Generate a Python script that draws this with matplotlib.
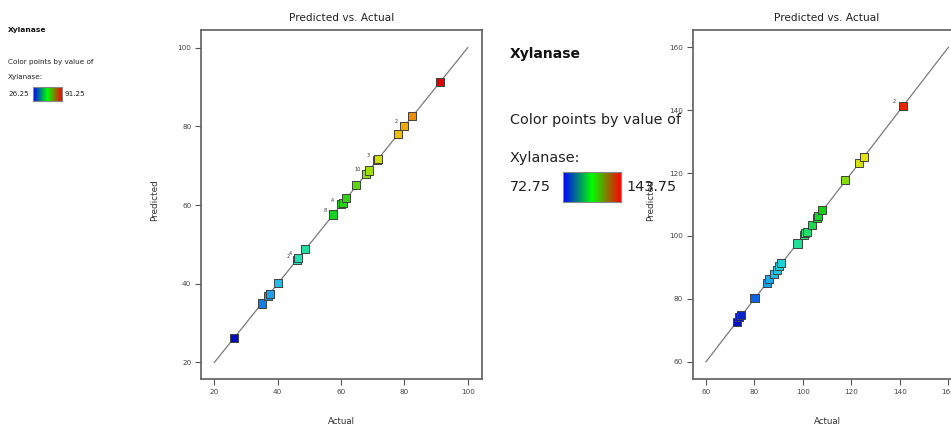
import numpy as np
import matplotlib
matplotlib.use("Agg")
import matplotlib.pyplot as plt
from matplotlib.colors import LinearSegmentedColormap, Normalize

plt.rcParams['font.family'] = ['Liberation Sans Narrow', 'DejaVu Sans']

# ---- data ----
response_name = "Xylanase"

actual_left = [26.25, 35.0, 37.0, 37.5, 40.0, 46.0, 46.5, 48.5, 57.5, 60.0, 60.5,
               61.5, 64.75, 68.0, 68.75, 71.25, 71.75, 78.0, 80.0, 82.5, 91.25]
pred_left = [26.2, 35.0, 36.9, 37.5, 40.1, 46.0, 46.6, 48.8, 57.6, 60.2, 60.5,
             61.9, 65.1, 68.0, 68.8, 71.5, 71.8, 78.1, 80.2, 82.7, 91.3]
range_left = (26.25, 91.25)
counts_left = [("2", 80.0, 80.2), ("3", 71.25, 71.5), ("10", 68.0, 68.0),
               ("4", 60.0, 60.2), ("8", 57.5, 57.6), ("4", 46.5, 46.6), ("2", 46.0, 46.0)]
ticks_left = [20, 40, 60, 80, 100]

actual_right = [72.75, 73.75, 74.5, 80.0, 85.0, 86.0, 88.0, 89.25, 90.25, 91.0, 97.75,
                100.25, 100.75, 101.5, 103.75, 105.75, 106.25, 108.0, 117.5, 123.0, 125.0, 141.25]
pred_right = [72.5, 74.1, 74.8, 80.2, 84.9, 86.2, 87.9, 89.2, 90.4, 91.5, 97.6,
              100.3, 100.8, 101.3, 103.5, 105.6, 106.3, 108.2, 117.8, 123.1, 125.2, 141.4]
range_right = (72.75, 143.75)
counts_right = [("2", 141.25, 141.4)]
ticks_right = [60, 80, 100, 120, 140, 160]

# point colours (Design-Expert style) and legend bar
pt_cmap = LinearSegmentedColormap.from_list("de_pts", [
    (0.0, "#0010c0"), (0.1, "#1060e0"), (0.2, "#20b8f0"), (0.3, "#20e0c0"),
    (0.4, "#20e070"), (0.5, "#10d010"), (0.6, "#60d810"), (0.68, "#c0e000"),
    (0.75, "#f0e000"), (0.82, "#f0b000"), (0.88, "#f08000"), (1.0, "#e00000")])
bar_cmap = LinearSegmentedColormap.from_list("de_bar", ["#0000ff", "#00ff00", "#ff0000"])

fig = plt.figure(figsize=(9.51, 4.28), dpi=100)
W, H = 951.0, 428.0


def pred_plot(ax, act, pred, vr, counts, ticks, lim):
    lo, hi = ticks[0], ticks[-1]
    ax.plot([lo, hi], [lo, hi], color="#7a7a7a", lw=0.9, zorder=1)
    norm = Normalize(vr[0], vr[1])
    ax.scatter(act, pred, marker="s", s=34, c=pt_cmap(norm(np.array(act))),
               edgecolors="#404040", linewidths=0.7, zorder=3)
    for txt, xa, yp in counts:
        ax.annotate(txt, (xa, yp), xytext=(-6, 1), textcoords="offset points",
                    fontsize=3.5, color="#333333", ha="center", va="bottom")
    ax.set_xlim(lim)
    ax.set_ylim(lim)
    ax.set_xticks(ticks)
    ax.set_yticks(ticks)
    ax.tick_params(direction="out", length=4, width=0.8, colors="#555555",
                   labelsize=5.2, labelcolor="#444444", pad=3)
    for s in ax.spines.values():
        s.set_color("#5e5e5e")
        s.set_linewidth(1.2)


# left panel
ax1 = fig.add_axes([201 / W, 49 / H, 281 / W, 349 / H])
pred_plot(ax1, actual_left, pred_left, range_left, counts_left, ticks_left, (15.8, 104.5))
# right panel (cut off at the right edge, like the screenshot)
ax2 = fig.add_axes([692.7 / W, 49 / H, 269 / W, 349 / H])
pred_plot(ax2, actual_right, pred_right, range_right, counts_right, ticks_right, (54.5, 165.5))

for cx in (341.5, 827):
    fig.text(cx / W, 1 - 18 / H, "Predicted vs. Actual", ha="center", va="center",
             fontsize=7.6, color="#222222")
    fig.text(cx / W, 1 - 422 / H, "Actual", ha="center", va="center",
             fontsize=6.2, color="#333333")
for lx in (155, 651):
    fig.text(lx / W, 1 - 200 / H, "Predicted", ha="center", va="center",
             rotation=90, fontsize=6.4, color="#333333")


def legend(x, y_title, y_l1, y_l2, y_bar, fs_title, fs, bar_box, vr):
    fig.text(x / W, 1 - y_title / H, response_name, fontsize=fs_title,
             fontweight="bold", va="center", ha="left", color="#111111")
    fig.text(x / W, 1 - y_l1 / H, "Color points by value of", fontsize=fs,
             va="center", ha="left", color="#222222")
    fig.text(x / W, 1 - y_l2 / H, response_name + ":", fontsize=fs,
             va="center", ha="left", color="#222222")
    bx0, by0, bx1, by1 = bar_box
    fig.text(x / W, 1 - y_bar / H, "%.2f" % vr[0], fontsize=fs,
             va="center", ha="left", color="#222222")
    fig.text((bx1 + (bx1 - bx0) * 0.1) / W, 1 - y_bar / H, "%.2f" % vr[1],
             fontsize=fs, va="center", ha="left", color="#222222")
    cax = fig.add_axes([bx0 / W, 1 - by1 / H, (bx1 - bx0) / W, (by1 - by0) / H])
    cax.imshow(np.linspace(0, 1, 256)[None, :], aspect="auto", cmap=bar_cmap)
    cax.set_xticks([])
    cax.set_yticks([])
    for s in cax.spines.values():
        s.set_color("#888888")
        s.set_linewidth(0.8)


legend(8, 30, 62, 77, 94, 5.4, 5.2, (33, 87, 62, 101), range_left)
legend(510, 54, 120, 158, 187, 10.0, 10.4, (563, 172, 621, 202), range_right)

fig.savefig("out.png", dpi=100)
